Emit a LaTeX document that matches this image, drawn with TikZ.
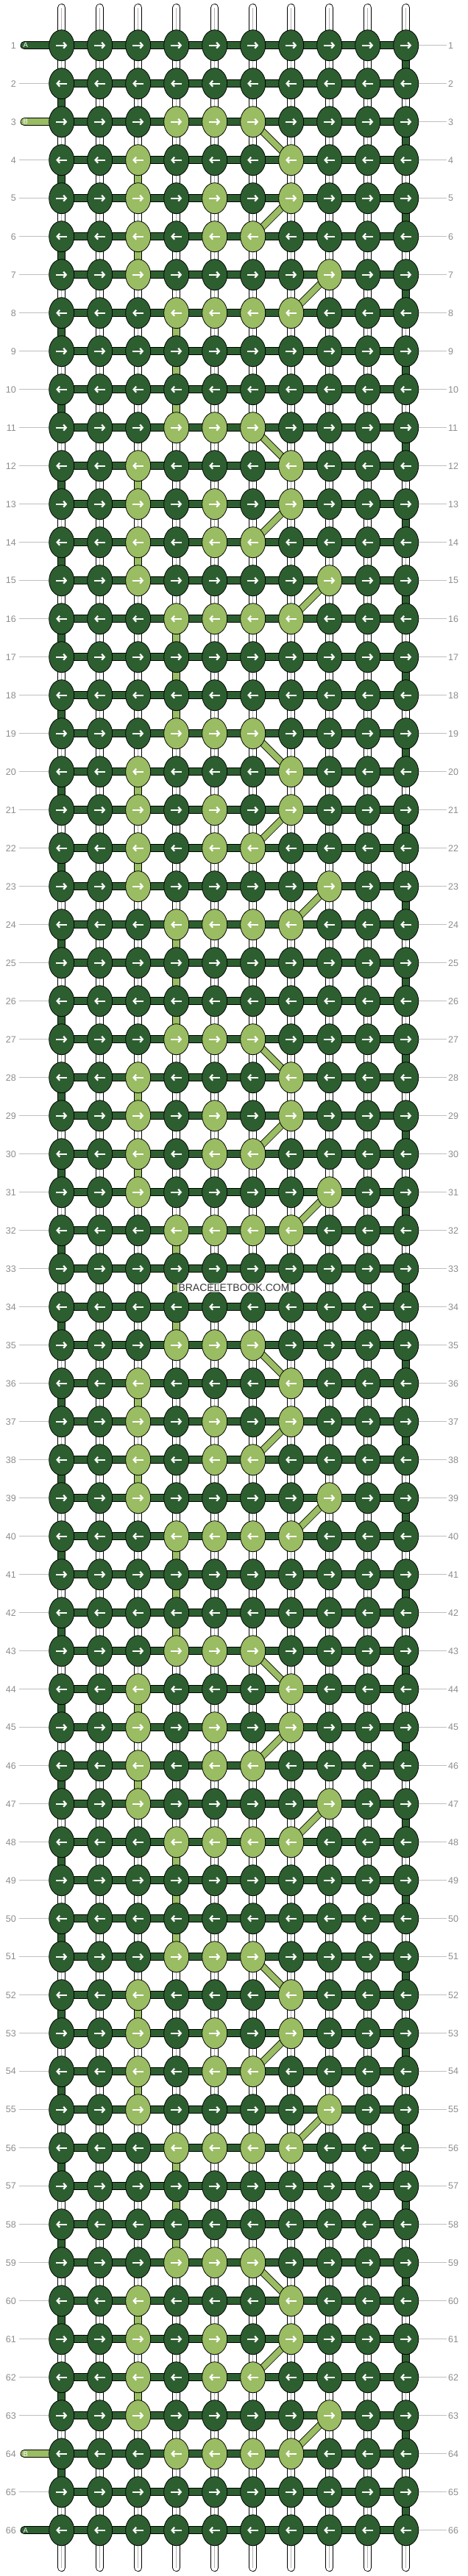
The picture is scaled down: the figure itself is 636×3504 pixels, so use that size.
\documentclass[tikz,border=0pt]{standalone}
\usepackage{fontspec}
\setmainfont{Liberation Sans}
\usetikzlibrary{shapes.geometric,arrows.meta,backgrounds}

\definecolor{threadA}{HTML}{2D5E30}
\definecolor{threadB}{HTML}{9ABC62}

\def\lightmap{{0,0,0,1,1,1,0,0,0,0,
	0,0,1,0,0,0,1,0,0,0,
	0,0,1,0,1,0,1,0,0,0,
	0,0,1,0,1,1,0,0,0,0,
	0,0,1,0,0,0,0,1,0,0,
	0,0,0,1,1,1,1,0,0,0,
	0,0,0,0,0,0,0,0,0,0,
	0,0,0,0,0,0,0,0,0,0}}

\tikzset{
	knot/.style={ellipse, draw=black, line width=0.8pt, minimum width=34pt, minimum height=42pt, inner sep=0pt},
	knotA/.style={knot, fill=threadA},
	knotB/.style={knot, fill=threadB},
	fwd/.style={path picture={\draw [white, line width=2.2pt, -{Straight Barb[length=3.5pt,width=8pt]}] ([xshift=-7.5pt]path picture bounding box.center) -- ([xshift=7.5pt]path picture bounding box.center);}},
	bwd/.style={path picture={\draw [white, line width=2.2pt, -{Straight Barb[length=3.5pt,width=8pt]}] ([xshift=7.5pt]path picture bounding box.center) -- ([xshift=-7.5pt]path picture bounding box.center);}},
	bar/.style={draw=black, line width=0.8pt, double distance=9.4pt},
	barA/.style={bar, double=threadA},
	barB/.style={bar, double=threadB},
	strand/.style={bar, double=white, line cap=round},
	diag/.style={draw=black, line width=0.8pt, double=threadB, double distance=8pt},
	rowline/.style={draw=black!25, line width=0.8pt},
	rownum/.style={text=black!45, font=\fontsize{12.5}{14}\selectfont, inner sep=2pt},
	stublabel/.style={text=white, font=\fontsize{9.5}{11}\selectfont, inner sep=0pt}
}

\begin{document}
\begin{tikzpicture}[x=1pt, y=-1pt]
	\useasboundingbox (0,0) rectangle (636,3504);

	\foreach \r in {1,...,66}{
		\pgfmathsetmacro\ky{61.7+52*(\r-1)}
		\ifodd\r\relax \def\kdir{fwd}\else \def\kdir{bwd}\fi
		\foreach \c in {1,...,10}{
			\pgfmathtruncatemacro\kidx{mod(\r+5,8)*10+\c-1}
			\pgfmathtruncatemacro\klt{\lightmap[\kidx]}
			\ifnum\klt=1 \def\kcol{knotB}\else \def\kcol{knotA}\fi
			\node [\kcol,\kdir] (k-\r-\c) at ({83.7+52*(\c-1)},\ky) {};
		}
		\node [rownum, anchor=east] (nl-\r) at (24,\ky) {\r};
		\node [rownum, anchor=west] (nr-\r) at (607,\ky) {\r};
	}

	\coordinate (inA) at (33,61.7);
	\coordinate (inB) at (33,165.7);
	\coordinate (outB) at (33,3337.7);
	\coordinate (outA) at (33,3441.7);

	\begin{pgfonlayer}{background}
		\foreach \r in {1,...,66}{
			\draw [rowline] (k-\r-10.east) -- (nr-\r);
		}
		\foreach \r in {2,4,5,...,63,65}{
			\draw [rowline, shorten <=2pt] (nl-\r) -- (k-\r-1.west);
		}

		\foreach \c in {1,...,10}{
			\coordinate (top-\c) at ({83.7+52*(\c-1)},10.5);
			\coordinate (bot-\c) at ({83.7+52*(\c-1)},3492.5);
			\draw [strand] (top-\c) -- (bot-\c);
			\draw [black!30, line width=0.7pt] (top-\c) -- (bot-\c);
		}

		\foreach \r [evaluate=\r as \s using int(\r+1)] in {1,3,...,65}
			\draw [barA] (k-\r-10.center) -- (k-\s-10.center);
		\foreach \r [evaluate=\r as \s using int(\r+1)] in {2,4,...,64}
			\draw [barA] (k-\r-1.center) -- (k-\s-1.center);
		\foreach \r [evaluate=\r as \s using int(\r+1)] in {4,6,12,14,20,22,28,30,36,38,44,46,52,54,60,62}
			\draw [barB] (k-\r-3.center) -- (k-\s-3.center);
		\foreach \r [evaluate=\r as \s using int(\r+1)] in {8,9,10,16,17,18,24,25,26,32,33,34,40,41,42,48,49,50,56,57,58}
			\draw [barB] (k-\r-4.center) -- (k-\s-4.center);

		\foreach \r in {1,...,66}
			\draw [barA] (k-\r-1.center) -- (k-\r-10.center);
		\draw [barA, line cap=round] (inA) -- (k-1-1.center);
		\draw [barB, line cap=round] (inB) -- (k-3-1.center);
		\draw [barB, line cap=round] (outB) -- (k-64-1.center);
		\draw [barA, line cap=round] (outA) -- (k-66-1.center);

		\foreach \r [evaluate=\r as \s using int(\r+1)] in {3,11,...,59}
			\draw [diag] (k-\r-6.center) -- (k-\s-7.center);
		\foreach \r [evaluate=\r as \s using int(\r+1)] in {5,13,...,61}
			\draw [diag] (k-\r-7.center) -- (k-\s-6.center);
		\foreach \r [evaluate=\r as \s using int(\r+1)] in {7,15,...,63}
			\draw [diag] (k-\r-8.center) -- (k-\s-7.center);
	\end{pgfonlayer}

	\node [stublabel] (labA1) at (34.7,61.7) {A};
	\node [stublabel] (labB1) at (34.7,165.7) {B};
	\node [stublabel] (labB2) at (34.7,3337.7) {B};
	\node [stublabel] (labA2) at (34.7,3441.7) {A};

	\node [font=\fontsize{14}{16}\selectfont, text=black!78, fill=white, fill opacity=0.6, text opacity=1, inner sep=1.5pt] (mark) at (318,1751.7) {BRACELETBOOK.COM};
\end{tikzpicture}
\end{document}
